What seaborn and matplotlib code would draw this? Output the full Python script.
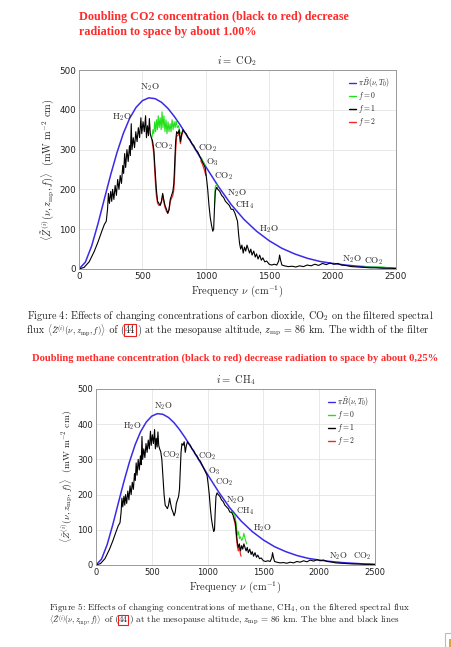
import numpy as np
import pandas as pd
import matplotlib
matplotlib.use("Agg")
import matplotlib.pyplot as plt
import seaborn as sns
from matplotlib.lines import Line2D
from matplotlib.patches import Rectangle

# ---------------- data ----------------
planck_nu = [0, 50, 100, 150, 200, 250, 300, 350, 400, 450, 500, 550, 600, 650, 700,
             750, 800, 900, 1000, 1100, 1200, 1300, 1400, 1500, 1600, 1700, 1800,
             1900, 2000, 2100, 2200, 2300, 2400, 2500]
planck_val = [0, 17, 58, 114, 176, 237, 293, 341, 379, 406, 423, 430, 428, 419, 404,
              384, 361, 310, 257, 207, 162, 125, 95, 71, 52, 38, 27, 19, 14, 10, 7, 5, 3, 2]

f1_nu = [0, 40, 80, 120, 150, 180, 200, 215, 225, 232, 240, 250, 258, 265, 275, 285, 295,
         305, 315, 325, 335, 345, 352, 360, 368, 378, 388, 398, 405, 412, 418, 428, 438,
         448, 458, 468, 478, 488, 495, 505, 515, 525, 532, 540, 548, 555, 562, 570, 580,
         590, 600, 610, 620, 630, 640, 650, 660, 668, 678, 690, 700, 710, 720, 730, 740,
         748, 755, 762, 770, 780, 790, 800, 810, 820, 830, 845, 860, 875, 890, 905, 920,
         935, 950, 965, 980, 995, 1005, 1015, 1025, 1035, 1045, 1055, 1062, 1068, 1075,
         1085, 1095, 1110, 1125, 1140, 1155, 1170, 1185, 1200, 1215, 1230, 1240, 1250,
         1258, 1266, 1275, 1285, 1295, 1305, 1315, 1325, 1335, 1345, 1355, 1365, 1378,
         1390, 1400, 1412, 1425, 1438, 1450, 1465, 1480, 1500, 1520, 1540, 1560, 1575,
         1582, 1590, 1600, 1620, 1650, 1680, 1710, 1740, 1770, 1800, 1830, 1860, 1890,
         1920, 1950, 1980, 2010, 2040, 2070, 2100, 2150, 2200, 2250, 2300, 2350, 2400,
         2450, 2500]
f1_val = [0, 4, 18, 44, 68, 95, 112, 120, 150, 190, 165, 195, 170, 200, 175, 210, 185,
          225, 200, 235, 215, 260, 240, 290, 255, 300, 270, 310, 285, 365, 300, 330, 305,
          345, 320, 355, 330, 380, 340, 370, 345, 385, 330, 360, 335, 378, 340, 330, 322,
          300, 250, 200, 170, 165, 160, 170, 190, 175, 160, 150, 140, 150, 175, 185, 195,
          215, 270, 320, 345, 340, 350, 320, 340, 350, 345, 340, 330, 325, 315, 310, 300,
          295, 285, 275, 265, 255, 230, 200, 160, 130, 110, 95, 100, 150, 195,
          205, 200, 195, 185, 180, 170, 165, 160, 150, 150, 140, 130, 120,
          90, 65, 50, 60, 40, 55, 45, 60, 50, 40, 50, 35, 45,
          30, 38, 25, 35, 22, 28, 18, 20, 12, 10, 12, 10, 20,
          35, 22, 10, 8, 6, 7, 5, 8, 6, 10, 8, 12, 9,
          14, 11, 15, 12, 14, 10, 9, 6, 5, 4, 3, 3, 2,
          2, 1]

# CO2 panel: f = 0 (green) segments
co2_g_seg = [0] * 30 + [1] * 4 + [2] * 4 + [3] * 6
co2_g_nu = [575, 583, 590, 597, 604, 611, 618, 625, 632, 640, 648, 655, 662, 670, 678,
            686, 694, 702, 710, 718, 726, 734, 742, 750, 758, 766, 775, 785, 795, 805,
            965, 978, 990, 1000,
            1068, 1075, 1085, 1095,
            2250, 2300, 2350, 2400, 2450, 2500]
co2_g_val = [330, 350, 340, 370, 345, 375, 350, 385, 355, 380, 350, 395, 355, 385, 345,
             375, 340, 370, 345, 365, 345, 375, 350, 370, 355, 372, 355, 360, 345, 340,
             280, 270, 262, 250,
             160, 208, 212, 205,
             5, 5, 5, 5, 3, 2]
# CO2 panel: f = 2 (red) segments
co2_r_seg = [0] * 26 + [1] * 4
co2_r_nu = [575, 590, 600, 610, 620, 630, 640, 650, 660, 668, 678, 690, 700, 710, 720,
            730, 740, 748, 755, 762, 770, 780, 790, 800, 810, 820,
            960, 975, 990, 1000]
co2_r_val = [325, 290, 230, 185, 165, 160, 160, 168, 185, 170, 155, 145, 140, 148, 170,
             178, 185, 200, 240, 295, 335, 335, 345, 315, 335, 345,
             272, 262, 248, 235]

# CH4 panel: f = 0 (green) and f = 2 (red)
ch4_g_nu = [1215, 1225, 1235, 1245, 1255, 1262, 1270, 1278, 1285, 1295, 1305, 1315,
            1325, 1332, 1340, 1350]
ch4_g_val = [152, 148, 145, 140, 120, 100, 85, 95, 75, 80, 70, 75, 90, 80, 70, 60]
ch4_r_nu = [1230, 1240, 1250, 1258, 1266, 1275, 1285, 1295, 1300]
ch4_r_val = [138, 125, 110, 80, 55, 40, 50, 30, 25]

legend_labels = [r"$\pi\tilde{B}(\nu, T_0)$", r"$f = 0$", r"$f = 1$", r"$f = 2$"]
x_ticks = [0, 500, 1000, 1500, 2000, 2500]
y_ticks = [0, 100, 200, 300, 400, 500]

co2_notes = [("H$_2$O", 336, 381), ("N$_2$O", 560, 456), ("CO$_2$", 668, 308),
             ("CO$_2$", 1012, 303), ("O$_3$", 1054, 268), ("CO$_2$", 1143, 232),
             ("N$_2$O", 1243, 190), ("CH$_4$", 1304, 161), ("H$_2$O", 1501, 100),
             ("N$_2$O", 2156, 25), ("CO$_2$", 2326, 19)]
ch4_notes = [("H$_2$O", 323, 393), ("N$_2$O", 606, 452), ("CO$_2$", 672, 312),
             ("CO$_2$", 995, 308), ("O$_3$", 1054, 265), ("CO$_2$", 1144, 234),
             ("N$_2$O", 1249, 185), ("CH$_4$", 1332, 154), ("H$_2$O", 1496, 104),
             ("N$_2$O", 2175, 24), ("CO$_2$", 2385, 24)]

# ---------------- styling ----------------
sns.set_theme(style="white")
plt.rcParams["mathtext.fontset"] = "cm"
plt.rcParams["font.family"] = ["cmr10", "DejaVu Serif"]
plt.rcParams["axes.formatter.use_mathtext"] = True
plt.rcParams["axes.unicode_minus"] = False

W, H = 452, 647
BLUE = "#3a2be6"
GREEN = "#22e01a"
RED = "#f02828"
TITLE_RED = "#ff2b2b"

fig = plt.figure(figsize=(W / 100, H / 100), dpi=100)
fig.patch.set_facecolor("white")

df_planck = pd.DataFrame({"nu": planck_nu, "val": planck_val})
df_f1 = pd.DataFrame({"nu": f1_nu, "val": f1_val})


def panel(rect, title, g_df, r_df, notes, ylabel_x, note_size, ylabel_size, tick_size):
    ax = fig.add_axes(rect)
    sns.lineplot(data=df_planck, x="nu", y="val", ax=ax, color=BLUE, lw=1.1,
                 estimator=None, sort=False)
    sns.lineplot(data=g_df, x="nu", y="val", units="seg", ax=ax, color=GREEN, lw=0.8,
                 estimator=None, sort=False)
    sns.lineplot(data=r_df, x="nu", y="val", units="seg", ax=ax, color=RED, lw=0.9,
                 estimator=None, sort=False)
    sns.lineplot(data=df_f1, x="nu", y="val", ax=ax, color="black", lw=0.8,
                 estimator=None, sort=False)
    ax.set_xlim(0, 2500)
    ax.set_ylim(0, 500)
    ax.set_xticks(x_ticks)
    ax.set_yticks(y_ticks)
    ax.set_xticklabels([str(t) for t in x_ticks], family=["Liberation Sans Narrow", "DejaVu Sans"],
                       fontsize=tick_size)
    ax.set_yticklabels([str(t) for t in y_ticks], family=["Liberation Sans Narrow", "DejaVu Sans"],
                       fontsize=tick_size)
    ax.tick_params(direction="in", length=2.5, width=0.6, pad=2, colors="#222222")
    ax.grid(True, color="#e4e4e4", lw=0.6)
    for s in ax.spines.values():
        s.set_color("#9a9a9a")
        s.set_linewidth(0.7)
    ax.set_xlabel(r"Frequency $\nu$ (cm$^{-1}$)", fontsize=7.5, labelpad=2)
    ax.set_ylabel(r"$\langle\tilde{Z}^{(i)}(\nu, z_{\rm mp}, f)\rangle$  (mW m$^{-2}$ cm)",
                  fontsize=ylabel_size, labelpad=2)
    ax.yaxis.set_label_coords(ylabel_x, 0.5)
    ax.set_title(title, fontsize=7.5, pad=4)
    for txt, x, y in notes:
        ax.text(x, y, txt, fontsize=note_size, ha="center", va="center")
    handles = [Line2D([], [], color=c, lw=1) for c in (BLUE, GREEN, "black", RED)]
    ax.legend(handles, legend_labels, loc="upper right", frameon=False, fontsize=5.5,
              handlelength=0.9, handletextpad=0.25, labelspacing=0.12,
              borderaxespad=0.4)
    return ax


g_co2 = pd.DataFrame({"nu": co2_g_nu, "val": co2_g_val, "seg": co2_g_seg})
r_co2 = pd.DataFrame({"nu": co2_r_nu, "val": co2_r_val, "seg": co2_r_seg})
g_ch4 = pd.DataFrame({"nu": ch4_g_nu, "val": ch4_g_val, "seg": [0] * len(ch4_g_nu)})
r_ch4 = pd.DataFrame({"nu": ch4_r_nu, "val": ch4_r_val, "seg": [0] * len(ch4_r_nu)})

panel([79 / W, (H - 269) / H, 317 / W, 199 / H], r"$i = $ CO$_2$", g_co2, r_co2,
      co2_notes, -0.07, 6.7, 7.4, 6.3)
panel([96 / W, (H - 565) / H, 279 / W, 176 / H], r"$i = $ CH$_4$", g_ch4, r_ch4,
      ch4_notes, -0.075, 6.3, 6.9, 6.0)

# ---------------- red headings ----------------
fig.text(79 / W, 1 - 17 / H, "Doubling CO2 concentration (black to red) decrease",
         color=TITLE_RED, fontsize=8.7, fontweight="bold", family=["Liberation Serif"],
         ha="left", va="center")
fig.text(79 / W, 1 - 32 / H, "radiation to space by about 1.00%",
         color=TITLE_RED, fontsize=8.7, fontweight="bold", family=["Liberation Serif"],
         ha="left", va="center")
fig.text(32 / W, 1 - 358 / H,
         "Doubling methane concentration (black to red) decrease radiation to space by about 0,25%",
         color=TITLE_RED, fontsize=7.55, fontweight="bold", family=["Liberation Serif"],
         ha="left", va="center")

# ---------------- captions ----------------
renderer = fig.canvas.get_renderer()


def seq_text(x0, y, parts, size):
    x = x0
    for s, boxed, scale in parts:
        kw = {}
        if boxed:
            kw["bbox"] = dict(boxstyle="square,pad=0.08", fc="none", ec="#e82020", lw=0.8)
        t = fig.text(x / W, 1 - y / H, s, fontsize=size * scale, ha="left", va="center",
                     color="#222222", **kw)
        bb = t.get_window_extent(renderer)
        x = bb.x1 + (1.5 if boxed else 0)


zflux = r"$\langle\tilde{Z}^{(i)}(\nu, z_{\rm mp}, f)\rangle$"
seq_text(27, 316, [("Figure 4: Effects of changing concentrations of carbon dioxide, CO$_2$ on the filtered spectral", False, 1.0)], 7.3)
seq_text(27, 330, [("flux ", False, 1.0), (zflux, False, 0.85), (" of (", False, 1.0), ("44", True, 1.0),
                   (") at the mesopause altitude, $z_{\\rm mp}$ = 86 km. The width of the filter", False, 1.0)], 7.3)
seq_text(49, 607, [("Figure 5: Effects of changing concentrations of methane, CH$_4$, on the filtered spectral flux", False, 1.0)], 6.55)
seq_text(49, 620, [(zflux, False, 0.85), (" of (", False, 1.0), ("44", True, 1.0),
                   (") at the mesopause altitude, $z_{\\rm mp}$ = 86 km. The blue and black lines", False, 1.0)], 6.55)

# small page icon in the corner
fig.patches.append(Rectangle((445 / W, 0), 8 / W, 14 / H, transform=fig.transFigure,
                             fc="white", ec="#bbbbbb", lw=0.8))
fig.patches.append(Rectangle((449 / W, 0), 2.5 / W, 8 / H, transform=fig.transFigure,
                             fc="#d9a441", ec="none"))

fig.savefig("out.png", dpi=100)
